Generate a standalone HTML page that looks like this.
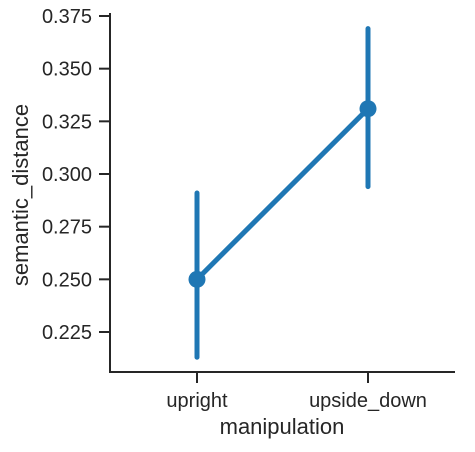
<!DOCTYPE html>
<html><head><meta charset="utf-8"><style>
body{margin:0;background:#fff}
svg text{font-family:"Liberation Sans",sans-serif;fill:#262626}
</style></head><body>
<svg width="475" height="447">
<g id="axes"></g>
<g id="marks"></g>
</svg>
<script>
const categories = ["upright","upside_down"];
const means = [0.250, 0.331];
const ciLow = [0.213, 0.294];
const ciHigh = [0.291, 0.369];
const yTicks = [0.225,0.250,0.275,0.300,0.325,0.350,0.375];
const tickLabels = ["0.225","0.250","0.275","0.300","0.325","0.350","0.375"];
const NS="http://www.w3.org/2000/svg";
function y(v){return 16+(0.375-v)*316/0.15;}
function x(i){return 197+i*171;}
function mk(tag,attrs,parent,txt){const e=document.createElementNS(NS,tag);for(const k in attrs)e.setAttribute(k,attrs[k]);if(txt!==undefined)e.textContent=txt;parent.appendChild(e);return e;}
const ax=document.getElementById('axes'), mg=document.getElementById('marks');
let e=mk('line',{x1:110,y1:13,x2:110,y2:372,stroke:'#262626','stroke-width':2},ax);

e=mk('line',{x1:109,y1:372,x2:455,y2:372,stroke:'#262626','stroke-width':2},ax);

yTicks.forEach((t,i)=>{
 e=mk('line',{x1:99,x2:110,y1:y(t),y2:y(t),stroke:'#262626','stroke-width':2},ax);
 
 e=mk('text',{x:92,y:y(t)+7,'text-anchor':'end','font-size':20},ax,tickLabels[i]);
 
});
categories.forEach((c,i)=>{
 e=mk('line',{x1:x(i),x2:x(i),y1:372,y2:383,stroke:'#262626','stroke-width':2},ax);
 
 e=mk('text',{x:x(i),y:407,'text-anchor':'middle','font-size':20},ax,c);
 
});
e=mk('text',{x:282,y:434,'text-anchor':'middle','font-size':22},ax,'manipulation');

e=mk('text',{x:0,y:0,'text-anchor':'middle','font-size':22,transform:'translate(28,195) rotate(-90)'},ax,'semantic_distance');

const C='#1f77b4';
e=mk('polyline',{points:means.map((m,i)=>x(i)+','+y(m)).join(' '),fill:'none',stroke:C,'stroke-width':5},mg);

categories.forEach((c,i)=>{
 e=mk('line',{x1:x(i),x2:x(i),y1:y(ciLow[i]),y2:y(ciHigh[i]),stroke:C,'stroke-width':5,'stroke-linecap':'round'},mg);
 
 e=mk('circle',{cx:x(i),cy:y(means[i]),r:8.5,fill:C},mg);
 
});
</script>
</body></html>
